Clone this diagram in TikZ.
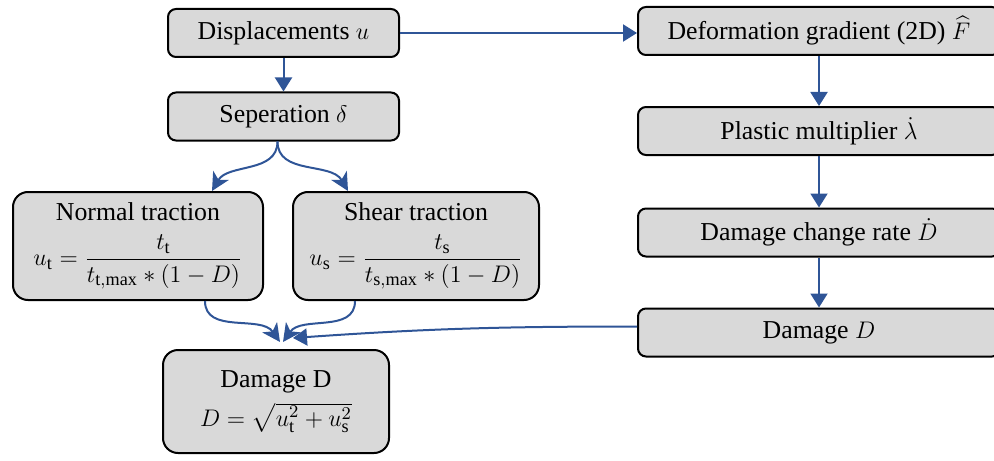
\documentclass[tikz,border=0pt]{standalone}
\usepackage{amsmath}
\usepackage{fontspec}
\setmainfont{Liberation Serif}
\usetikzlibrary{arrows.meta}
\definecolor{boxgray}{HTML}{D9D9D9}
\definecolor{flowblue}{HTML}{2F5597}
\newcommand\eqsize{\fontsize{13}{15.5}\selectfont}
\begin{document}
\begin{tikzpicture}[x=0.5pt,y=-0.5pt,
    font=\fontsize{12.9}{15.5}\selectfont,
    blk/.style={draw=black,line width=1pt,fill=boxgray,rounded corners=4pt,
      align=center,inner sep=0pt,minimum width=115.5pt,minimum height=24pt},
    wide/.style={blk,minimum width=181pt},
    eqbox/.style={blk,rounded corners=7.5pt,minimum height=54pt},
    flow/.style={draw=flowblue,line width=1pt,-{Triangle[length=7pt,width=8.5pt]}},
    curved/.style={draw=flowblue,line width=1pt,-{Stealth[length=9pt,width=9pt,inset=2.5pt]}}]
  \useasboundingbox (0,0) rectangle (994,460);
  \draw
    (283.5,33) node[blk] (disp) {Displacements $u$}
    (283.5,116.5) node[blk] (sep) {Seperation $\delta$}
    (138,246) node[eqbox,minimum width=125pt] (nt)
      {Normal traction\\[6pt]
       {\eqsize$u_{\mathrm{t}}=\dfrac{t_{\mathrm{t}}}{t_{\mathrm{t,max}}*(1-D)}$}}
    (416,246) node[eqbox,minimum width=123pt] (st)
      {Shear traction\\[6pt]
       {\eqsize$u_{\mathrm{s}}=\dfrac{t_{\mathrm{s}}}{t_{\mathrm{s,max}}*(1-D)}$}}
    (276,401.5) node[eqbox,minimum width=113pt,minimum height=51.5pt] (dmg)
      {Damage D\\[4pt]
       {\eqsize$D=\sqrt{u_{\mathrm{t}}^2+u_{\mathrm{s}}^2}$}}
    (819,31) node[wide] (fg) {Deformation gradient (2D) $\widehat{F}$}
    (819,131) node[wide] (pm) {Plastic multiplier $\dot{\lambda}$}
    (819,232.5) node[wide] (dr) {Damage change rate $\dot{D}$}
    (819,332.5) node[wide] (dd) {Damage $D$};
  \begin{scope}[flow]
    \draw (disp.east) -- (disp.east -| fg.west);
    \draw (disp.south) -- (sep.north);
    \draw (fg.south) -- (pm.north);
    \draw (pm.south) -- (dr.north);
    \draw (dr.south) -- (dd.north);
    \draw ([yshift=3pt]dd.west) to[out=180,in=4]
      ([xshift=8.5pt,yshift=5.5pt]dmg.north);
  \end{scope}
  \begin{scope}[curved]
    \draw ([xshift=-3pt]sep.south) to[out=-90,in=60] ([xshift=37pt]nt.north);
    \draw ([xshift=-3pt]sep.south) to[out=-90,in=120] ([xshift=-34pt]st.north);
    \draw ([xshift=33.5pt]nt.south) to[out=-90,in=125]
      ([xshift=2pt,yshift=3.5pt]dmg.north);
    \draw ([xshift=-30.5pt]st.south) to[out=-90,in=55]
      ([xshift=3.5pt,yshift=3.5pt]dmg.north);
  \end{scope}
\end{tikzpicture}
\end{document}
